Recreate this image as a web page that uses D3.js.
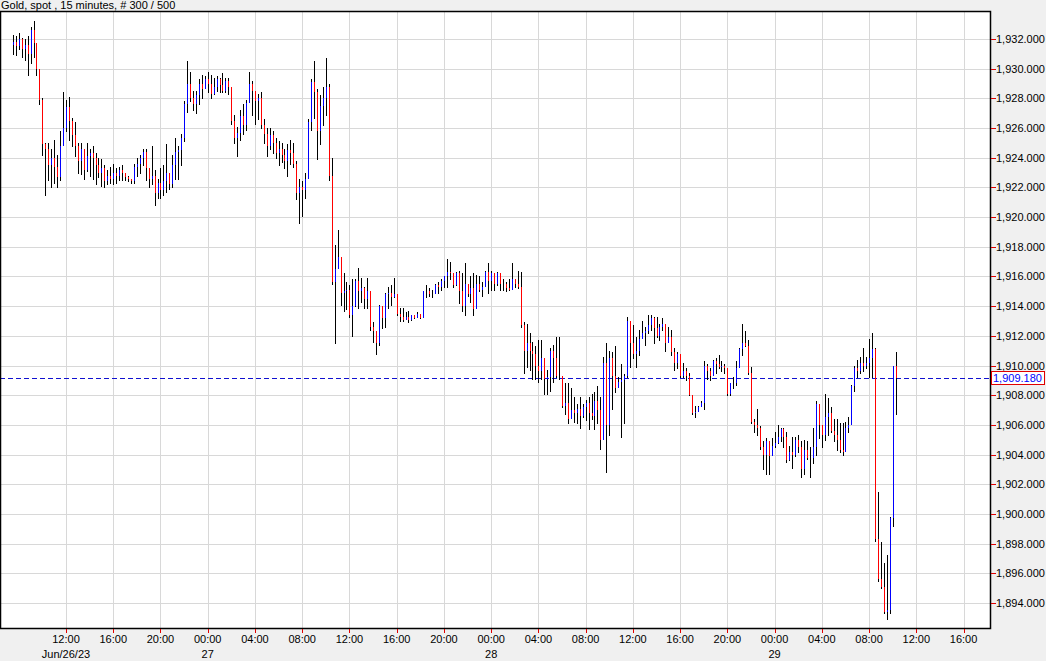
<!DOCTYPE html>
<html>
<head>
  <title>Gold, spot, 15 minutes</title>
  <script src="https://d3js.org/d3.v7.min.js"></script>
  <style>
    body { margin: 0; background: #f0f0f0; font-family: Arial, Helvetica, sans-serif; }
    svg { display: block; }
  </style>
</head>
<body>
  <div id="chart"></div>
  <script>
const width = 1046;
const height = 661;
const plot = { left: 0, top: 11, right: 990, bottom: 628 };

const title = "Gold, spot , 15 minutes, # 300 / 500";
const firstBar = "2023-06-26T07:30";   // 15 minute bars
const lastPrice = 1909.18;
const firstOpen = 1931.6;

// bar highs, lows and closes
const highs = [
1932.3,1932.2,1932.4,1932.1,1932.0,1932.2,1932.8,1933.2,1931.7,1930.0,
1928.0,1925.0,1925.0,1924.6,1925.2,1924.2,1925.8,1928.4,1927.9,1928.1,
1926.7,1926.4,1925.0,1925.0,1924.6,1925.0,1924.6,1924.8,1924.3,1924.0,
1923.9,1923.5,1923.2,1923.4,1923.6,1923.3,1923.4,1923.5,1923.0,1922.8,
1922.6,1923.6,1924.0,1924.2,1924.6,1924.6,1923.3,1924.8,1923.2,1922.6,
1923.3,1923.5,1924.9,1922.9,1924.2,1925.3,1924.8,1925.6,1927.8,1930.5,
1929.8,1928.5,1928.5,1929.3,1929.6,1929.5,1929.8,1929.6,1929.4,1929.5,
1929.4,1929.7,1929.4,1929.4,1928.8,1926.9,1926.1,1927.2,1927.6,1927.9,
1929.8,1929.2,1928.3,1928.3,1928.4,1926.6,1926.0,1926.0,1925.8,1925.3,
1925.1,1925.0,1924.6,1924.9,1925.2,1925.0,1923.8,1922.6,1922.4,1923.0,
1926.6,1929.3,1930.5,1928.6,1928.2,1928.8,1930.7,1929.0,1924.0,1918.1,
1919.1,1917.3,1916.2,1915.6,1915.4,1915.8,1915.8,1916.6,1915.9,1915.3,
1915.9,1914.9,1912.9,1912.3,1914.1,1913.5,1914.9,1915.3,1915.4,1915.9,
1914.6,1913.9,1913.9,1913.6,1913.7,1913.4,1913.4,1913.6,1913.4,1915.0,
1915.4,1915.2,1915.1,1915.5,1915.6,1915.8,1916.0,1917.2,1917.0,1916.2,
1916.3,1916.4,1916.2,1916.9,1915.5,1916.0,1916.2,1916.1,1916.0,1915.6,
1916.4,1916.9,1916.4,1916.0,1916.3,1916.0,1915.8,1915.6,1915.8,1916.9,
1915.8,1916.4,1916.3,1912.9,1912.8,1912.2,1911.6,1911.3,1911.7,1911.7,
1910.2,1909.7,1911.2,1911.4,1911.9,1911.9,1909.2,1908.8,1908.8,1908.5,
1907.9,1907.4,1907.9,1907.4,1907.7,1907.9,1908.1,1908.2,1908.6,1907.9,
1910.6,1911.5,1911.0,1910.9,1911.3,1909.2,1910.1,1909.4,1913.3,1912.7,
1912.7,1911.9,1912.4,1913.0,1912.6,1913.4,1913.4,1913.3,1913.3,1912.8,
1913.2,1912.8,1912.6,1912.4,1911.2,1910.9,1910.6,1910.2,1909.8,1909.5,
1908.0,1907.3,1907.3,1907.6,1910.3,1910.1,1909.8,1910.4,1910.5,1910.7,
1910.3,1910.1,1909.8,1908.8,1909.2,1910.3,1911.2,1912.8,1912.3,1911.7,
1909.9,1906.4,1907.1,1905.9,1904.9,1905.1,1904.5,1905.1,1905.5,1906.0,
1905.8,1905.8,1905.5,1904.6,1905.2,1905.2,1905.3,1904.9,1905.0,1904.9,
1904.5,1905.8,1907.6,1906.4,1906.0,1908.1,1907.8,1907.2,1906.4,1906.4,
1906.1,1906.1,1906.2,1906.5,1908.7,1910.0,1910.4,1910.6,1911.2,1910.6,
1911.8,1912.2,1911.2,1901.5,1898.1,1896.7,1897.2,1899.8,1910.0,1910.9
];

const lows = [
1931.0,1930.9,1931.3,1930.8,1930.6,1929.6,1930.4,1930.8,1929.6,1927.6,
1924.2,1921.5,1922.5,1922.0,1922.3,1922.0,1922.5,1925.5,1925.8,1925.2,
1924.8,1924.1,1923.0,1922.9,1922.6,1923.1,1922.8,1922.6,1922.2,1922.7,
1922.1,1922.0,1922.2,1922.3,1922.2,1922.3,1922.5,1922.5,1922.5,1922.4,
1922.3,1922.3,1922.8,1923.0,1923.5,1922.5,1922.0,1922.2,1920.8,1921.3,
1921.3,1921.5,1921.7,1921.9,1922.0,1922.6,1922.6,1923.5,1925.1,1927.1,
1927.8,1927.2,1927.0,1927.6,1928.0,1928.7,1928.4,1928.0,1928.3,1928.5,
1928.4,1928.4,1928.4,1928.3,1926.3,1925.0,1924.1,1925.2,1925.6,1925.9,
1928.4,1926.9,1926.3,1926.6,1926.0,1925.0,1924.1,1924.6,1924.3,1924.0,
1923.5,1923.7,1923.3,1922.8,1923.6,1923.4,1921.2,1919.6,1920.1,1921.3,
1923.0,1925.9,1926.7,1923.9,1924.9,1926.2,1926.9,1922.5,1915.5,1911.5,
1917.1,1914.1,1913.7,1913.8,1913.3,1912.0,1914.0,1913.9,1914.3,1913.9,
1913.9,1912.4,1911.6,1910.8,1911.4,1912.5,1912.6,1913.9,1914.1,1914.6,
1913.4,1913.0,1913.0,1913.2,1912.9,1913.1,1913.2,1913.4,1913.2,1913.3,
1914.6,1914.7,1914.6,1914.9,1914.9,1915.1,1915.3,1915.3,1915.8,1915.3,
1915.4,1914.2,1913.7,1913.4,1914.7,1914.3,1913.4,1914.1,1915.0,1914.7,
1915.6,1914.9,1915.1,1915.1,1915.4,1915.1,1915.1,1915.0,1915.1,1915.3,
1915.3,1915.2,1912.6,1909.5,1909.9,1909.7,1909.1,1909.1,1908.9,1909.1,
1908.1,1908.1,1908.3,1908.9,1909.2,1909.1,1907.2,1906.7,1906.1,1906.7,
1906.2,1906.1,1905.8,1906.5,1906.3,1905.7,1906.4,1905.7,1906.1,1904.4,
1905.3,1902.8,1905.3,1907.1,1908.2,1908.6,1905.2,1906.1,1909.2,1909.9,
1910.5,1909.9,1910.7,1911.9,1911.4,1912.2,1912.4,1911.5,1911.9,1911.7,
1912.4,1911.0,1911.9,1910.7,1909.7,1909.8,1909.2,1909.2,1909.0,1908.0,
1906.7,1906.55,1907.1,1907.4,1907.1,1909.1,1909.0,1909.6,1909.5,1909.8,
1909.6,1909.5,1908.0,1908.0,1908.5,1908.7,1909.9,1910.7,1911.3,1909.4,
1906.1,1905.5,1905.3,1904.4,1903.0,1902.7,1902.7,1904.2,1904.5,1904.8,
1904.9,1904.5,1903.5,1903.6,1903.1,1903.9,1904.2,1902.5,1902.7,1903.7,
1902.5,1903.4,1904.0,1905.1,1904.5,1905.0,1905.3,1905.5,1904.9,1904.3,
1904.2,1904.0,1904.5,1905.5,1906.4,1908.3,1909.2,1909.5,1909.6,1909.8,
1909.2,1909.2,1898.2,1895.5,1895.0,1893.3,1892.9,1893.3,1899.2,1906.7
];

const closes = [
1931.8,1931.5,1932.0,1931.3,1931.6,1931.0,1932.6,1931.7,1930.0,1927.9,
1924.9,1924.6,1923.5,1924.0,1923.4,1922.7,1924.8,1926.0,1927.4,1926.5,
1925.5,1924.8,1923.8,1924.6,1923.2,1924.1,1924.3,1924.0,1923.5,1923.0,
1923.3,1922.4,1922.8,1922.6,1923.0,1922.8,1923.2,1923.0,1922.7,1922.6,
1922.4,1923.4,1923.6,1924.0,1924.4,1923.3,1922.6,1922.8,1921.6,1922.3,
1921.8,1922.4,1923.0,1922.2,1923.5,1924.4,1924.5,1925.3,1927.6,1929.0,
1928.0,1927.6,1928.2,1929.0,1928.6,1929.3,1929.0,1928.3,1928.8,1929.3,
1928.9,1928.5,1929.2,1928.8,1926.5,1925.3,1925.7,1926.8,1926.2,1927.7,
1929.0,1928.5,1927.8,1928.0,1926.2,1925.6,1924.8,1925.5,1925.0,1924.3,
1924.6,1924.2,1923.8,1924.5,1924.3,1923.6,1921.6,1922.0,1921.8,1922.6,
1926.4,1929.1,1928.4,1925.8,1927.5,1928.0,1928.8,1922.8,1915.6,1916.5,
1917.3,1914.9,1915.0,1915.1,1913.4,1914.0,1915.7,1915.0,1915.2,1914.5,
1915.0,1912.6,1912.3,1911.5,1914.0,1913.2,1914.8,1914.9,1914.6,1914.8,
1913.5,1913.3,1913.1,1913.3,1913.1,1913.4,1913.2,1913.5,1913.2,1915.0,
1915.0,1914.8,1914.8,1915.4,1915.3,1915.7,1916.0,1916.3,1916.2,1915.4,
1916.2,1915.0,1914.0,1915.5,1914.8,1915.2,1913.8,1915.5,1915.1,1915.3,
1916.3,1915.7,1916.2,1915.5,1916.2,1915.5,1915.5,1915.2,1915.1,1915.8,
1915.5,1915.3,1912.7,1911.0,1911.5,1911.0,1910.8,1910.0,1909.6,1910.5,
1909.1,1909.2,1911.0,1910.5,1909.3,1909.3,1907.3,1907.5,1906.4,1907.0,
1906.8,1907.1,1906.6,1907.2,1907.5,1906.8,1906.6,1907.6,1907.0,1905.0,
1910.2,1906.0,1910.5,1909.3,1908.5,1908.9,1909.0,1909.3,1913.0,1911.5,
1910.8,1911.0,1911.8,1912.2,1912.3,1912.7,1913.2,1912.5,1912.0,1912.6,
1912.8,1911.5,1911.9,1910.9,1910.2,1910.8,1909.3,1909.6,1909.3,1908.0,
1906.8,1906.9,1907.2,1907.5,1910.0,1909.6,1909.3,1910.3,1910.1,1909.9,
1910.0,1909.8,1908.1,1908.8,1908.8,1909.8,1911.1,1911.5,1911.3,1909.5,
1906.2,1906.0,1905.8,1904.5,1904.0,1904.9,1903.9,1904.6,1904.8,1905.2,
1905.7,1905.2,1903.6,1904.2,1904.0,1905.0,1904.5,1903.0,1904.3,1903.8,
1903.8,1904.5,1907.4,1906.0,1905.3,1906.5,1906.8,1905.6,1905.3,1905.0,
1904.3,1904.2,1905.8,1906.0,1908.6,1909.8,1909.6,1910.2,1910.0,1910.2,
1910.5,1911.1,1898.3,1895.6,1895.1,1893.4,1893.5,1899.7,1910.0,1909.18
];

const priceTicks = d3.range(1894, 1933, 2);
const timeTicks = d3.range(0, 20).map(k => new Date(Date.UTC(2023, 5, 26, 12 + 4 * k)));

const t0 = d3.utcParse("%Y-%m-%dT%H:%M")(firstBar);
const bars = closes.map((c, i) => ({
  t: new Date(t0.getTime() + i * 15 * 60000),
  o: i === 0 ? firstOpen : closes[i - 1],
  h: highs[i], l: lows[i], c: c
}));

const svg = d3.select("#chart").append("svg")
  .attr("width", width).attr("height", height)
  .style("font-family", "Arial, Helvetica, sans-serif");

// 12:00 on the 26th sits at x=66, 11.81px per hour
const pxPerHour = 11.81;
const ref = Date.UTC(2023, 5, 26, 12);
const x = d3.scaleUtc()
  .domain([new Date(ref - 66 / pxPerHour * 3600000), new Date(ref + (990 - 66) / pxPerHour * 3600000)])
  .range([plot.left, plot.right]);

const y = d3.scaleLinear()
  .domain([1892.31, 1933.89])
  .range([plot.bottom, plot.top]);

const px = v => Math.round(v) + 0.5;

svg.append("rect")
  .attr("x", plot.left).attr("y", plot.top)
  .attr("width", plot.right - plot.left).attr("height", plot.bottom - plot.top)
  .attr("fill", "#fff");

// grid
const grid = svg.append("g").attr("stroke", "#d8d8d8").attr("shape-rendering", "crispEdges");
grid.selectAll(".gy").data(priceTicks).join("line")
  .attr("x1", plot.left).attr("x2", plot.right)
  .attr("y1", d => px(y(d))).attr("y2", d => px(y(d)));
grid.selectAll(".gx").data(timeTicks.filter(d => x(d) < plot.right)).join("line")
  .attr("y1", plot.top).attr("y2", plot.bottom)
  .attr("x1", d => px(x(d))).attr("x2", d => px(x(d)));

// last price line
svg.append("line")
  .attr("x1", plot.left).attr("x2", plot.right)
  .attr("y1", px(y(lastPrice))).attr("y2", px(y(lastPrice)))
  .attr("stroke", "#1010d0").attr("stroke-dasharray", "5,3")
  .attr("shape-rendering", "crispEdges");

// OHLC bars
const g = svg.append("g").attr("shape-rendering", "crispEdges");
g.selectAll(".hl").data(bars).join("line")
  .attr("x1", d => px(x(d.t))).attr("x2", d => px(x(d.t)))
  .attr("y1", d => y(d.h)).attr("y2", d => y(d.l) + 1)
  .attr("stroke", "#000");
g.selectAll(".oc").data(bars.filter(d => d.o !== d.c)).join("line")
  .attr("x1", d => px(x(d.t))).attr("x2", d => px(x(d.t)))
  .attr("y1", d => y(Math.max(d.o, d.c))).attr("y2", d => y(Math.min(d.o, d.c)))
  .attr("stroke", d => d.c > d.o ? "#0000ff" : "#ff0000");

// frame
svg.append("path")
  .attr("d", `M${plot.left + 0.5},${plot.bottom + 0.5}V${plot.top + 0.5}H${plot.right + 0.5}V${plot.bottom + 0.5}H${plot.left}`)
  .attr("fill", "none").attr("stroke", "#000").attr("stroke-width", 1.5);

// y axis
const yAxis = svg.append("g").attr("transform", `translate(${plot.right},0)`);
yAxis.selectAll("line").data(priceTicks).join("line")
  .attr("x1", 1).attr("x2", 6)
  .attr("y1", d => px(y(d))).attr("y2", d => px(y(d)))
  .attr("stroke", "#e00000");
yAxis.selectAll("text").data(priceTicks).join("text")
  .attr("x", 6).attr("y", d => y(d) + 4)
  .attr("font-size", 11).attr("fill", "#000")
  .text(d => d3.format(",.3f")(d));

// last price label
svg.append("rect")
  .attr("x", plot.right + 1.5).attr("y", Math.round(y(lastPrice)) - 6.5)
  .attr("width", 53).attr("height", 13)
  .attr("fill", "#fff").attr("stroke", "#e00000");
svg.append("text")
  .attr("x", plot.right + 3).attr("y", y(lastPrice) + 4)
  .attr("font-size", 11).attr("fill", "#0000ff")
  .text(d3.format(",.3f")(lastPrice));

// x axis
const xs = timeTicks.filter(d => x(d) < plot.right - 10);
const xAxis = svg.append("g");
xAxis.selectAll("line").data(xs).join("line")
  .attr("x1", d => px(x(d))).attr("x2", d => px(x(d)))
  .attr("y1", plot.bottom + 1).attr("y2", plot.bottom + 5)
  .attr("stroke", "#e00000");
xAxis.selectAll(".tl").data(xs).join("text")
  .attr("x", d => x(d)).attr("y", 643)
  .attr("text-anchor", "middle").attr("font-size", 11)
  .text(d => d3.utcFormat("%H:%M")(d));
const dayLabels = [
  { t: Date.UTC(2023, 5, 26, 12), s: "Jun/26/23" },
  { t: Date.UTC(2023, 5, 27), s: "27" },
  { t: Date.UTC(2023, 5, 28), s: "28" },
  { t: Date.UTC(2023, 5, 29), s: "29" }
];
xAxis.selectAll(".dl").data(dayLabels).join("text")
  .attr("x", d => x(new Date(d.t))).attr("y", 658)
  .attr("text-anchor", "middle").attr("font-size", 11)
  .text(d => d.s);

// title
svg.append("text")
  .attr("x", 1).attr("y", 9)
  .attr("font-size", 11)
  .text(title);
  </script>
</body>
</html>
